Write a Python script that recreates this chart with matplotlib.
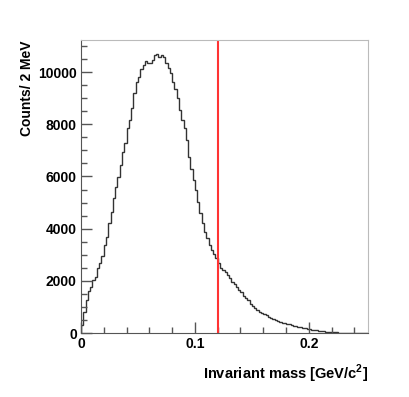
import numpy as np
import matplotlib.pyplot as plt
from matplotlib.ticker import MultipleLocator

plt.rcParams['font.family'] = ['Liberation Sans', 'DejaVu Sans']
plt.rcParams['mathtext.fontset'] = 'custom'
plt.rcParams['mathtext.bf'] = 'Liberation Sans:bold'

# ---------------------------
# Data: counts per 2 MeV bin, starting at 0 GeV/c^2
# ---------------------------
BIN_WIDTH = 0.002
COUNTS = [
    300, 820, 1260, 1600, 1780, 2030, 2160, 2480, 2680, 2950,
    3370, 3700, 4200, 4650, 5160, 5600, 5990, 6440, 6950, 7270,
    7840, 8160, 8610, 9180, 9630, 9820, 10100, 10270, 10430, 10330,
    10330, 10460, 10650, 10690, 10590, 10650, 10590, 10330, 10140, 9980,
    9630, 9370, 8990, 8540, 8160, 7840, 7400, 6760, 6300, 5860,
    5470, 5030, 4590, 4200, 3880, 3630, 3370, 3180, 3030, 2860,
    2670, 2480, 2400, 2350, 2220, 2100, 1950, 1870, 1770, 1650,
    1560, 1420, 1350, 1250, 1100, 1040, 960, 880, 820, 780,
    730, 690, 630, 580, 540, 500, 470, 440, 400, 370,
    350, 330, 300, 280, 260, 245, 230, 200, 180, 160,
    140, 130, 115, 100, 95, 85, 70, 60, 50, 40,
    35, 30, 25, 20, 16, 12, 10, 8, 6, 5,
    3, 2, 1, 1, 0, 0,
]
CUT = 0.12  # GeV/c^2

edges = np.arange(len(COUNTS) + 1) * BIN_WIDTH

# ---------------------------
# Plot
# ---------------------------
fig = plt.figure(figsize=(4.09, 3.97), dpi=100)
ax = fig.add_axes([0.198, 0.161, 0.702, 0.738])

ax.stairs(COUNTS, edges, color='#333333', linewidth=1.0)
ymax = max(COUNTS) * 1.05
ax.plot([CUT, CUT], [0, ymax], color='#ff3333', linewidth=1.5)

ax.set_xlim(0, edges[-1])
ax.set_ylim(0, ymax)

ax.xaxis.set_major_locator(MultipleLocator(0.1))
ax.xaxis.set_minor_locator(MultipleLocator(0.02))
ax.yaxis.set_major_locator(MultipleLocator(2000))
ax.yaxis.set_minor_locator(MultipleLocator(500))
ax.xaxis.set_major_formatter(plt.FuncFormatter(lambda v, p: '0' if v == 0 else f'{v:g}'))

ax.tick_params(which='both', direction='in', top=False, right=False,
               color='#555555', width=1)
ax.tick_params(which='major', length=8, labelsize=10, pad=3)
ax.tick_params(which='minor', length=4)
for lab in ax.get_xticklabels() + ax.get_yticklabels():
    lab.set_fontweight('bold')

for side in ['left', 'bottom']:
    ax.spines[side].set_color('#555555')
for side in ['top', 'right']:
    ax.spines[side].set_color('#bbbbbb')

ax.set_ylabel('Counts/ 2 MeV', fontsize=10, fontweight='bold', loc='top')
ax.yaxis.set_label_coords(-0.165, 1.0)
ax.set_xlabel('Invariant mass [GeV/c$^{\\mathbf{2}}$]', fontsize=10.5,
              fontweight='bold', loc='right')
ax.xaxis.set_label_coords(1.0, -0.1)

fig.savefig('out.png', dpi=100)
